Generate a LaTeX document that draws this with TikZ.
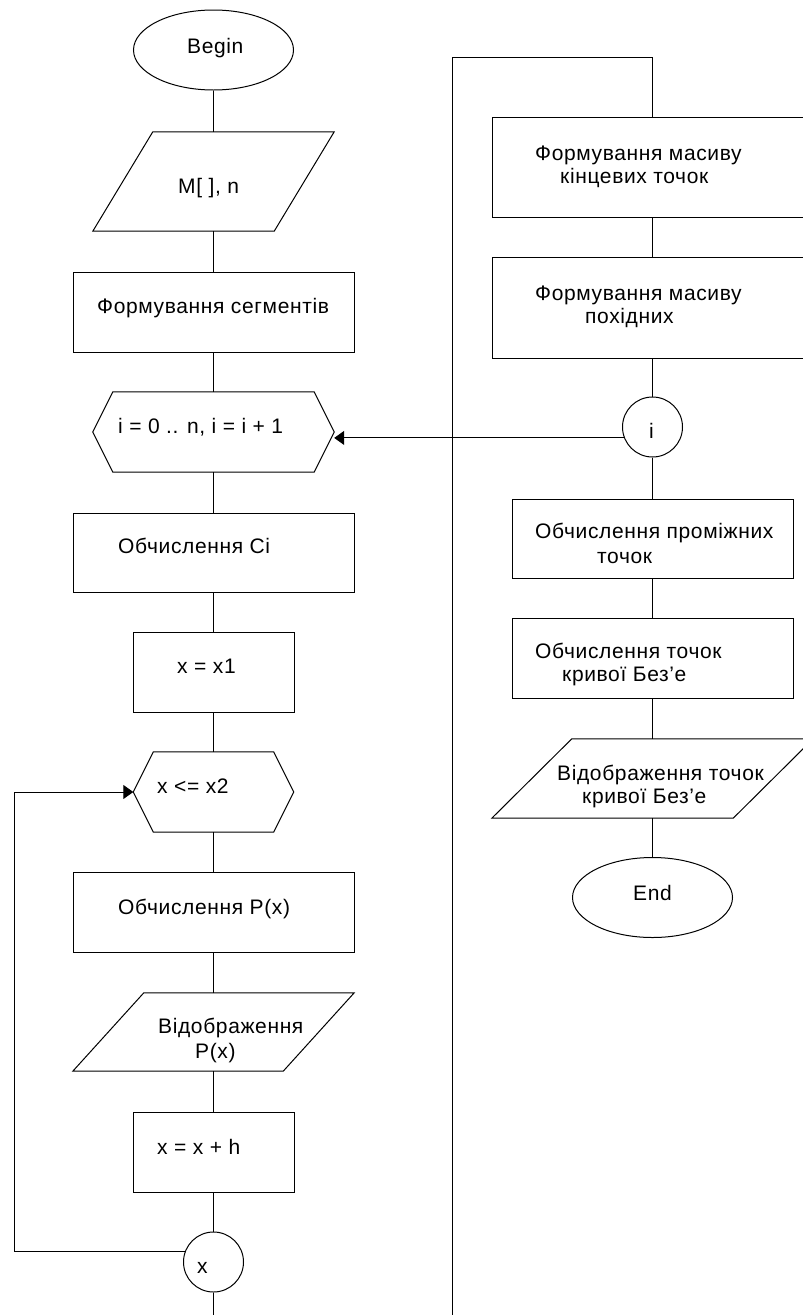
\documentclass[tikz,border=0pt]{standalone}
\usepackage{fontspec}
\setmainfont{Liberation Sans}[LetterSpace=3]
\usetikzlibrary{shapes.geometric,arrows.meta}
\newcommand\hexdraw[1]{\draw[wire] (#1.west) -- ([xshift=20pt]#1.north west) -- ([xshift=-20pt]#1.north east) -- (#1.east) -- ([xshift=-20pt]#1.south east) -- ([xshift=20pt]#1.south west) -- cycle;}
\newcommand\paradraw[2]{\draw[wire] ([xshift=#2pt]#1.north west) -- (#1.north east) -- ([xshift=-#2pt]#1.south east) -- (#1.south west) -- cycle;}
\begin{document}
\begin{tikzpicture}[x=1pt,y=-1pt,
  wire/.style={draw=black,line width=1pt},
  box/.style={rectangle,draw=black,line width=1pt,inner sep=0pt},
  shp/.style={rectangle,draw=none,inner sep=0pt},
  term/.style={ellipse,draw=black,line width=1pt,inner sep=0pt,minimum width=160pt,minimum height=80pt},
  conn/.style={circle,draw=black,line width=1pt,inner sep=0pt,minimum size=60pt},
  txt/.style={inner sep=0pt,anchor=base west,font=\fontsize{21}{25}\selectfont},
  arr/.style={wire,-{Triangle[length=10pt,width=14pt]}},
]
\useasboundingbox (0,0) rectangle (803,1315);
\clip (0,0) rectangle (803,1315);
\fill[white] (0,0) rectangle (803,1315);

% ---------- left column ----------
\node[term] (begin) at (213.5,50) {};
\node[txt] (tbegin) at (187,53) {Begin};

\node[shp,minimum width=241pt,minimum height=99pt] (inp) at (213.5,181.5) {};
\paradraw{inp}{60}
\node[txt] (tinp) at (178,193) {M[ ], n};

\node[box,minimum width=281pt,minimum height=80pt] (seg) at (213.5,312) {};
\node[txt] (tseg) at (97,313) {Формування сегментів};

\node[shp,minimum width=241pt,minimum height=80pt] (hi) at (213.5,432) {};
\hexdraw{hi}
\node[txt] (thi) at (118,433) {i = 0 .. n, i = i + 1};

\node[box,minimum width=281pt,minimum height=79pt] (calc) at (213.5,552.5) {};
\node[txt] (tcalc) at (118,553) {Обчислення Ci};

\node[box,minimum width=161pt,minimum height=80pt] (xa) at (213.5,672) {};
\node[txt] (txa) at (177,673) {x = x1};

\node[shp,minimum width=160pt,minimum height=80pt] (hx) at (213.5,792) {};
\hexdraw{hx}
\node[txt] (thx) at (157,793) {x <= x2};

\node[box,minimum width=281pt,minimum height=80pt] (pcalc) at (213.5,912) {};
\node[txt] (tpcalc) at (118,914) {Обчислення P(x)};

\node[shp,minimum width=281pt,minimum height=78pt] (pout) at (213.5,1032) {};
\paradraw{pout}{71}
\node[txt] (tpout1) at (158,1033) {Відображення};
\node[txt] (tpout2) at (195,1058) {P(x)};

\node[box,minimum width=161pt,minimum height=80pt] (xh) at (213.5,1152) {};
\node[txt] (txh) at (157,1154) {x = x + h};

\node[conn] (cx) at (213.5,1262) {};
\node[txt] (tcx) at (197,1273) {x};

\coordinate (lbot) at (213.5,1315);
\coordinate (lc2) at (14,792);

% ---------- right column ----------
\coordinate (rbot) at (452,1315);
\coordinate (rtop) at (452,57);

\node[box,minimum width=320pt,minimum height=100pt] (ends) at (652.5,167) {};
\node[txt] (tends1) at (535,160) {Формування масиву};
\node[txt] (tends2) at (560,183) {кінцевих точок};

\node[box,minimum width=320pt,minimum height=101pt] (ders) at (652.5,307.5) {};
\node[txt] (tders1) at (535,300) {Формування масиву};
\node[txt] (tders2) at (585,323) {похідних};

\node[conn] (ci) at (652.5,427) {};
\node[txt] (tci) at (649,438) {i};

\node[box,minimum width=281pt,minimum height=79pt] (mid) at (652.5,538.5) {};
\node[txt] (tmid1) at (535,538) {Обчислення проміжних};
\node[txt] (tmid2) at (597,563) {точок};

\node[box,minimum width=281pt,minimum height=80pt] (bez) at (652.5,658) {};
\node[txt] (tbez1) at (535,658) {Обчислення точок};
\node[txt] (tbez2) at (562,681) {кривої Без'е};

\node[shp,minimum width=321pt,minimum height=79pt] (bout) at (652.5,778.5) {};
\paradraw{bout}{80}
\node[txt] (tbout1) at (557,780) {Відображення точок};
\node[txt] (tbout2) at (582,803) {кривої Без'е};

\node[term] (end) at (652.5,897.5) {};
\node[txt] (tend) at (633,900) {End};

% ---------- connectors ----------
\draw[wire] (begin) -- (inp) -- (seg) -- (hi) -- (calc) -- (xa) -- (hx) -- (pcalc) -- (pout) -- (xh) -- (cx) -- (lbot);
\draw[arr] (cx.160.5) -| (lc2) -- (hx.west);

\draw[wire] (rbot) -- (rtop) -| (ends.north);
\draw[wire] (ends) -- (ders) -- (ci) -- (mid) -- (bez) -- (bout) -- (end);
\draw[arr] (ci.201.5) -- (ci.201.5 -| hi.east);
\end{tikzpicture}
\end{document}
